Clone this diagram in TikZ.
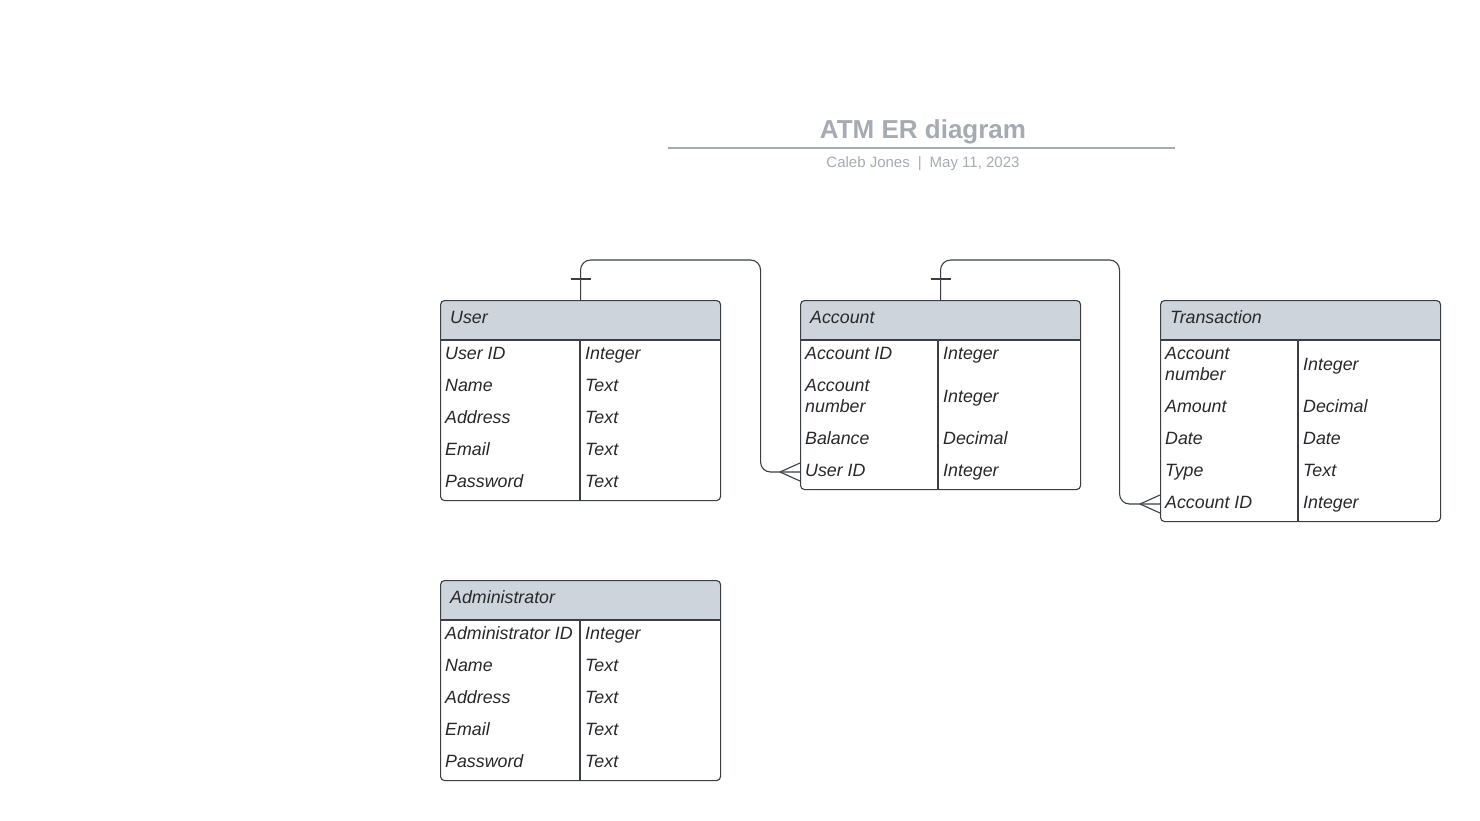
\documentclass[tikz,border=0pt]{standalone}
\usepackage{fontspec}
\setmainfont{Liberation Sans}
\definecolor{hdr}{HTML}{CED4DC}
\definecolor{bord}{HTML}{3A3F45}
\definecolor{ttl}{HTML}{A6ABB3}
\definecolor{txt}{HTML}{282828}
\begin{document}
\begin{tikzpicture}[x=1pt,y=-1pt,
  tbl/.style={draw=bord, line width=1.1pt, rounded corners=4pt, anchor=north west, minimum width=280pt, inner sep=0pt, fill=white,
    path picture={\fill[hdr] (path picture bounding box.north west) rectangle ([yshift=-40pt]path picture bounding box.north east);}},
  cell/.style={anchor=base west, inner sep=0pt, text=txt, font=\fontsize{17.8}{21}\selectfont\itshape, align=left},
  head/.style={anchor=base west, inner sep=0pt, text=txt, font=\fontsize{17.8}{21}\selectfont\itshape},
  line/.style={draw=bord, line width=1.1pt},
  conn/.style={draw=bord, line width=1.1pt, rounded corners=10pt}
]
\useasboundingbox[fill=white] (0,0) rectangle (1480,820);

% title
\node[anchor=base, inner sep=0pt, text=ttl, font=\fontsize{26}{30}\selectfont\bfseries] (title) at (923,138) {ATM ER diagram};
\draw[ttl, line width=2pt] (668,148) -- (1175,148);
\node[anchor=base, inner sep=0pt, text=ttl, font=\fontsize{15}{18}\selectfont] (sub) at (923,167.5) {Caleb Jones\hspace{8pt}|\hspace{8pt}May 11, 2023};

% User table
\node[tbl, minimum height=200pt] (user) at (440,300) {};
\draw[line] (440,340) -- (720,340);
\draw[line] (580,340) -- (580,500);
\node[head] (userh) at (450,323.5) {User};
\node[cell] (u1a) at (445,359.5) {User ID};   \node[cell] (u1b) at (585,359.5) {Integer};
\node[cell] (u2a) at (445,391.5) {Name};      \node[cell] (u2b) at (585,391.5) {Text};
\node[cell] (u3a) at (445,423.5) {Address};   \node[cell] (u3b) at (585,423.5) {Text};
\node[cell] (u4a) at (445,455.5) {Email};     \node[cell] (u4b) at (585,455.5) {Text};
\node[cell] (u5a) at (445,487.5) {Password};  \node[cell] (u5b) at (585,487.5) {Text};

% Account table
\node[tbl, minimum height=189pt] (account) at (800,300) {};
\draw[line] (800,340) -- (1080,340);
\draw[line] (938,340) -- (938,489);
\node[head] (acch) at (810,323.5) {Account};
\node[cell] (a1a) at (805,359.5) {Account ID};  \node[cell] (a1b) at (943,359.5) {Integer};
\node[cell] (a2a) at (805,412.5) {Account\\number}; \node[cell] (a2b) at (943,402.5) {Integer};
\node[cell] (a3a) at (805,444.5) {Balance};     \node[cell] (a3b) at (943,444.5) {Decimal};
\node[cell] (a4a) at (805,476.5) {User ID};     \node[cell] (a4b) at (943,476.5) {Integer};

% Transaction table
\node[tbl, minimum height=221pt] (trans) at (1160,300) {};
\draw[line] (1160,340) -- (1440,340);
\draw[line] (1298,340) -- (1298,521);
\node[head] (trh) at (1170,323.5) {Transaction};
\node[cell] (t1a) at (1165,380.5) {Account\\number}; \node[cell] (t1b) at (1303,370.5) {Integer};
\node[cell] (t2a) at (1165,412.5) {Amount};     \node[cell] (t2b) at (1303,412.5) {Decimal};
\node[cell] (t3a) at (1165,444.5) {Date};       \node[cell] (t3b) at (1303,444.5) {Date};
\node[cell] (t4a) at (1165,476.5) {Type};       \node[cell] (t4b) at (1303,476.5) {Text};
\node[cell] (t5a) at (1165,508.5) {Account ID}; \node[cell] (t5b) at (1303,508.5) {Integer};

% Administrator table
\node[tbl, minimum height=200pt] (admin) at (440,580) {};
\draw[line] (440,620) -- (720,620);
\draw[line] (580,620) -- (580,780);
\node[head] (admh) at (450,603.5) {Administrator};
\node[cell] (d1a) at (445,639.5) {Administrator ID}; \node[cell] (d1b) at (585,639.5) {Integer};
\node[cell] (d2a) at (445,671.5) {Name};      \node[cell] (d2b) at (585,671.5) {Text};
\node[cell] (d3a) at (445,703.5) {Address};   \node[cell] (d3b) at (585,703.5) {Text};
\node[cell] (d4a) at (445,735.5) {Email};     \node[cell] (d4b) at (585,735.5) {Text};
\node[cell] (d5a) at (445,767.5) {Password};  \node[cell] (d5b) at (585,767.5) {Text};

% connector User -> Account
\coordinate (c1) at (account.west |- 0,472);
\draw[conn] (user.north) -- ++(0,-40) -- ++(180,0) |- (c1);
\draw[line] (user.north) ++(-10,-21) -- ++(20,0);
\draw[line] (c1) ++(-20,0) -- ++(20,-9);
\draw[line] (c1) ++(-20,0) -- ++(20,9);

% connector Account -> Transaction
\coordinate (c2) at (trans.west |- 0,504);
\draw[conn] (account.north) -- ++(0,-40) -- ++(179,0) |- (c2);
\draw[line] (account.north) ++(-10,-21) -- ++(20,0);
\draw[line] (c2) ++(-20,0) -- ++(20,-9);
\draw[line] (c2) ++(-20,0) -- ++(20,9);
\end{tikzpicture}
\end{document}
